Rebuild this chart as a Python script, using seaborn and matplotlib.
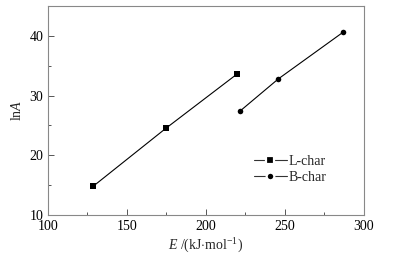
import pandas as pd
import numpy as np
import matplotlib
matplotlib.use("Agg")
import matplotlib.pyplot as plt
import seaborn as sns
from matplotlib.ticker import MultipleLocator

# data
l_E = [128.5, 174.5, 219.6]
l_lnA = [14.8, 24.5, 33.6]
b_E = [221.5, 245.8, 286.7]
b_lnA = [27.4, 32.8, 40.6]
series_names = ["L-char", "B-char"]

df = pd.DataFrame({
    "E": l_E + b_E,
    "lnA": l_lnA + b_lnA,
    "sample": [series_names[0]] * len(l_E) + [series_names[1]] * len(b_E),
})

sns.set_style("ticks")
plt.rcParams["font.family"] = ["Liberation Serif", "DejaVu Serif"]
plt.rcParams["mathtext.fontset"] = "custom"
plt.rcParams["mathtext.rm"] = "Liberation Serif"
plt.rcParams["mathtext.it"] = "Liberation Serif:italic"

fig = plt.figure(figsize=(3.95, 2.61), dpi=100)
ax = fig.add_axes([0.1215, 0.176, 0.8, 0.801])

sns.lineplot(data=df, x="E", y="lnA", hue="sample", style="sample",
             palette=["black", "black"], markers=["s", "o"], dashes=False,
             markersize=4, linewidth=0.8, markeredgewidth=0, ax=ax)

ax.set_xlim(100, 300)
ax.set_ylim(10, 45)
ax.xaxis.set_major_locator(MultipleLocator(50))
ax.xaxis.set_minor_locator(MultipleLocator(25))
ax.yaxis.set_major_locator(MultipleLocator(10))
ax.yaxis.set_minor_locator(MultipleLocator(5))
ax.tick_params(which="both", direction="in", colors="#555555", labelcolor="black",
               labelsize=10, top=False, right=False)
ax.tick_params(which="major", length=4, width=0.7)
ax.tick_params(which="minor", length=2.5, width=0.7)
for s in ax.spines.values():
    s.set_color("#888888")
    s.set_linewidth(0.8)

ax.set_xlabel(r"$E$ /(kJ$\cdot$mol$^{-1}$)", fontsize=10, labelpad=3)
ax.set_ylabel(r"ln$A$", fontsize=10, labelpad=4)

leg = ax.legend(title=None, frameon=False, fontsize=10, loc="lower right",
                bbox_to_anchor=(0.92, 0.09), handlelength=2.4, handletextpad=0.1,
                labelspacing=0.2)
# small gaps in the legend line on both sides of the marker
for h in leg.legend_handles:
    h.set_markeredgecolor("white")
    h.set_markeredgewidth(1.6)
    h.set_markersize(5.5)
    h.set_color("#333333")
    h.set_markerfacecolor("black")

fig.savefig("out.png", dpi=100)
